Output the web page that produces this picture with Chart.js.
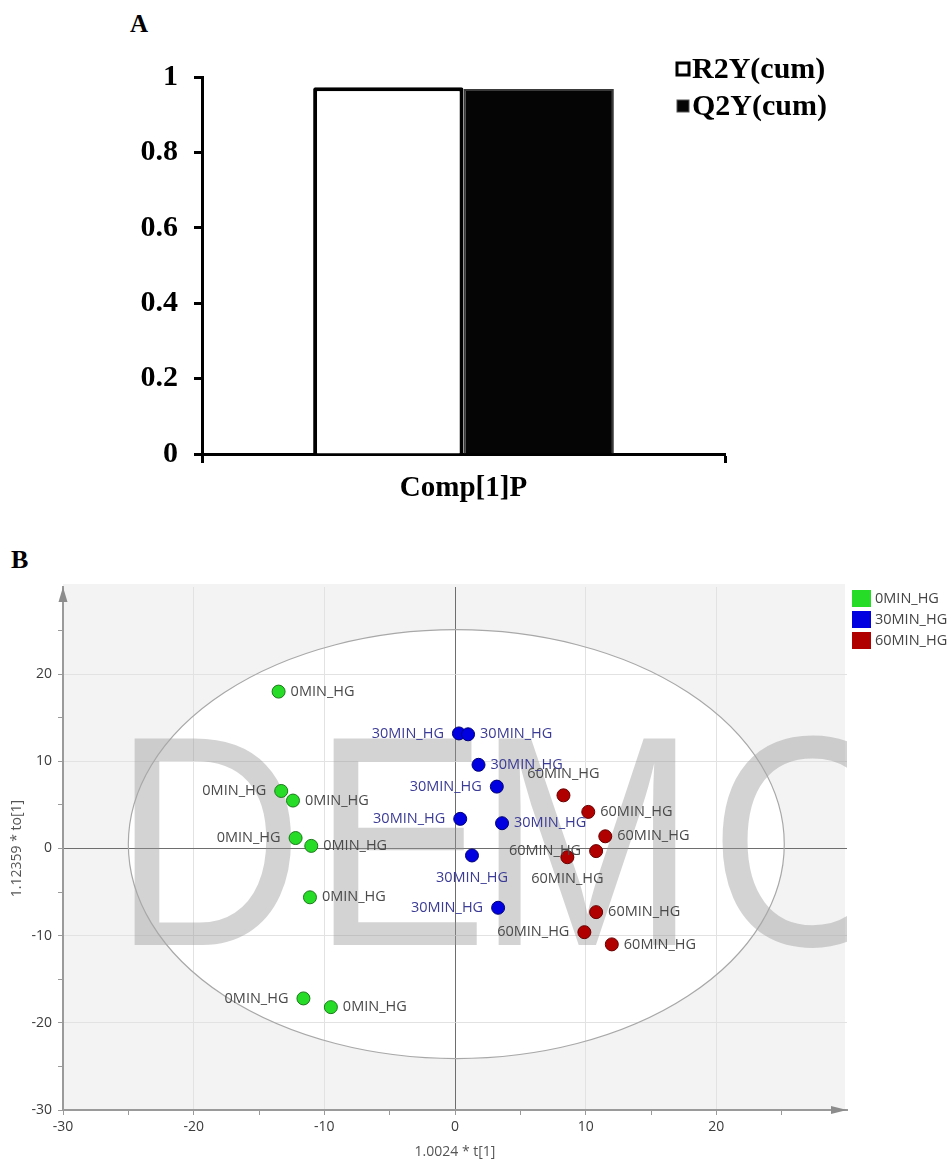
<!DOCTYPE html>
<html>
<head>
<meta charset="utf-8">
<title>OPLS-DA summary and score plot</title>
<script src="https://cdn.jsdelivr.net/npm/chart.js@4.4.1/dist/chart.umd.min.js"></script>
<style>
    body { margin: 0; background: #fff; }
    .panel-tag { position: absolute; font: bold 25px 'Liberation Serif', 'Times New Roman', serif; line-height: 25px; color: #000; }
    .box { position: absolute; left: 0; width: 951px; }
</style>
</head>
<body>

<div class="panel-tag" style="left:130px; top:11px">A</div>
<div class="box" style="top:0; height:520px"><canvas id="summaryChart"></canvas></div>

<div class="panel-tag" style="left:11px; top:547px; font-size:26px">B</div>
<div class="box" style="top:540px; height:620px"><canvas id="scoreChart"></canvas></div>

<script>
// =========================
// DATA
// =========================
const components = ["Comp[1]P"]
const r2yCum = [0.973]
const q2yCum = [0.968]

const groups = ["0MIN_HG", "30MIN_HG", "60MIN_HG"]

// t[1] / to[1] scores per group
const t0 = [-13.5, -13.3, -12.4, -12.2, -11.0, -11.1, -11.6, -9.5]
const to0 = [18.0, 6.6, 5.5, 1.2, 0.3, -5.6, -17.2, -18.2]
const t30 = [0.3, 1.0, 1.8, 3.2, 0.4, 3.6, 1.3, 3.3]
const to30 = [13.2, 13.1, 9.6, 7.1, 3.4, 2.9, -0.8, -6.8]
const t60 = [8.3, 10.2, 11.5, 10.8, 8.6, 10.8, 9.9, 12.0]
const to60 = [6.1, 4.2, 1.4, -0.3, -1.0, -7.3, -9.6, -11.0]

// Hotelling T2 ellipse (centre and radii in score units)
const t2Center = [0.1, 0.5]
const t2Radius = [25.1, 24.6]

// where each point label sits
const labelSide0 = ["right", "left", "right", "left", "right", "right", "left", "right"]
const labelSide30 = ["left", "right", "right", "left", "left", "right", "below", "left"]
const labelSide60 = ["above", "right", "right", "left", "below", "right", "left", "right"]

const serif = "'Liberation Serif', 'Times New Roman', serif"
const sans = "'Open Sans', 'DejaVu Sans', sans-serif"

// =========================
// PANEL A: R2Y / Q2Y BARS
// =========================
const summaryLegend = {
    id: "summaryLegend",
    afterDraw(chart) {
        const ctx = chart.ctx
        ctx.save()
        ctx.font = "bold 30px " + serif
        ctx.textBaseline = "middle"
        chart.data.datasets.forEach((ds, i) => {
            const y = 69 + i * 37
            ctx.fillStyle = ds.backgroundColor
            ctx.fillRect(677, y - 6, 12, 12)
            ctx.lineWidth = i === 0 ? 3 : 1
            ctx.strokeStyle = i === 0 ? "#000" : "#555"
            ctx.strokeRect(677, y - 6, 12, 12)
            ctx.fillStyle = "#000"
            ctx.fillText(ds.label, 692, y + 1)
        })
        ctx.restore()
    }
}

new Chart(document.getElementById("summaryChart"), {
    type: "bar",
    data: {
        labels: components,
        datasets: [
            {
                label: "R2Y(cum)",
                data: r2yCum,
                backgroundColor: "#ffffff",
                borderColor: "#000000",
                borderWidth: 4,
                borderRadius: 2
            },
            {
                label: "Q2Y(cum)",
                data: q2yCum,
                backgroundColor: "#050505",
                borderColor: "#3a3a3a",
                borderWidth: 2
            }
        ]
    },
    options: {
        responsive: true,
        maintainAspectRatio: false,
        animation: false,
        layout: { padding: { top: 77, right: 226, left: 0, bottom: 0 } },
        datasets: { bar: { barPercentage: 1, categoryPercentage: 0.575 } },
        plugins: { legend: { display: false }, tooltip: { enabled: false } },
        scales: {
            x: {
                grid: { drawOnChartArea: false, tickLength: 9, tickWidth: 3, tickColor: "#000" },
                border: { color: "#000", width: 3 },
                ticks: { color: "#000", padding: 8, font: { family: serif, size: 29, weight: "bold" } },
                afterFit: s => { s.height = 66 }
            },
            y: {
                min: 0,
                max: 1,
                ticks: {
                    stepSize: 0.2,
                    color: "#000",
                    padding: 16,
                    font: { family: serif, size: 30, weight: "bold" },
                    callback: v => String(Number(v.toFixed(1)))
                },
                grid: { drawOnChartArea: false, tickLength: 8, tickWidth: 3, tickColor: "#000" },
                border: { color: "#000", width: 3 },
                afterFit: s => { s.width = 202 }
            }
        }
    },
    plugins: [summaryLegend]
})

// =========================
// PANEL B: SCORE PLOT
// =========================
const pointFill = ["#27dc27", "#0000e0", "#b00000"]
const pointEdge = ["#1b7a1b", "#00007a", "#6a0000"]
const textColor = ["#4a4a4a", "#3b3b96", "#4a4a4a"]

function group(i, xs, ys, sides) {
    return {
        label: groups[i],
        data: xs.map((x, k) => ({ x: x, y: ys[k] })),
        labelSide: sides,
        backgroundColor: pointFill[i],
        borderColor: pointEdge[i],
        borderWidth: 1,
        pointRadius: 6.5,
        pointHoverRadius: 6.5
    }
}

function ellipsePath(chart) {
    const { ctx, scales } = chart
    const cx = scales.x.getPixelForValue(t2Center[0])
    const cy = scales.y.getPixelForValue(t2Center[1])
    const rx = scales.x.getPixelForValue(t2Center[0] + t2Radius[0]) - cx
    const ry = cy - scales.y.getPixelForValue(t2Center[1] + t2Radius[1])
    ctx.beginPath()
    ctx.ellipse(cx, cy, rx, ry, 0, 0, Math.PI * 2)
}

// grey plot area, white ellipse interior, watermark, ellipse outline
const plotBackdrop = {
    id: "plotBackdrop",
    beforeDraw(chart) {
        const { ctx, chartArea: a } = chart
        ctx.save()
        ctx.fillStyle = "#f3f3f3"
        ctx.fillRect(a.left, a.top - 3, a.right - a.left - 2, a.bottom - a.top + 3)
        ctx.beginPath()
        ctx.rect(a.left, a.top, a.right - a.left, a.bottom - a.top)
        ctx.clip()
        ellipsePath(chart)
        ctx.fillStyle = "#ffffff"
        ctx.fill()
        ctx.restore()
    },
    beforeDatasetsDraw(chart) {
        const { ctx, chartArea: a } = chart
        ctx.save()
        ctx.beginPath()
        ctx.rect(a.left, a.top, a.right - a.left, a.bottom - a.top)
        ctx.clip()

        // trial-version watermark, one glyph at a time
        ctx.font = "300px 'Liberation Sans', Arial, sans-serif"
        ctx.textAlign = "left"
        ctx.textBaseline = "alphabetic"
        ctx.fillStyle = "rgba(150,150,150,0.42)"
        const letters = ["D", "E", "M", "O"]
        const offsets = [50, 249, 414, 647]
        letters.forEach((ch, i) => {
            ctx.save()
            ctx.translate(a.left + offsets[i], a.top + 358)
            ctx.scale(0.88, 1)
            ctx.fillText(ch, 0, 0)
            ctx.restore()
        })

        ellipsePath(chart)
        ctx.strokeStyle = "#a8a8a8"
        ctx.lineWidth = 1.2
        ctx.stroke()
        ctx.restore()
    }
}

// observation names next to each point
const pointNames = {
    id: "pointNames",
    afterDatasetsDraw(chart) {
        const ctx = chart.ctx
        ctx.save()
        ctx.font = "14.5px " + sans
        ctx.textBaseline = "middle"
        chart.data.datasets.forEach((ds, i) => {
            const meta = chart.getDatasetMeta(i)
            ctx.fillStyle = textColor[i]
            meta.data.forEach((pt, k) => {
                const side = ds.labelSide[k]
                let x = pt.x, y = pt.y
                if (side === "right") { ctx.textAlign = "left"; x += 12 }
                else if (side === "left") { ctx.textAlign = "right"; x -= 15 }
                else if (side === "above") { ctx.textAlign = "center"; y -= 21 }
                else { ctx.textAlign = "center"; y += 22 }
                ctx.fillText(ds.label, x, y)
            })
        })
        ctx.restore()
    }
}

// axis arrows and the group key
const axisExtras = {
    id: "axisExtras",
    afterDraw(chart) {
        const { ctx, chartArea: a } = chart
        ctx.save()
        ctx.fillStyle = "#8c8c8c"
        ctx.beginPath()
        ctx.moveTo(a.left, a.top)
        ctx.lineTo(a.left - 4.5, a.top + 15)
        ctx.lineTo(a.left + 4.5, a.top + 15)
        ctx.closePath()
        ctx.fill()
        ctx.beginPath()
        ctx.moveTo(a.right, a.bottom)
        ctx.lineTo(a.right - 16, a.bottom - 4)
        ctx.lineTo(a.right - 16, a.bottom + 4)
        ctx.closePath()
        ctx.fill()

        ctx.font = "14.5px " + sans
        ctx.textBaseline = "middle"
        ctx.textAlign = "left"
        chart.data.datasets.forEach((ds, i) => {
            const top = 50 + i * 21
            ctx.fillStyle = pointFill[i]
            ctx.fillRect(a.right + 5, top, 19, 17)
            ctx.fillStyle = "#444"
            ctx.fillText(ds.label, a.right + 28, top + 9)
        })
        ctx.restore()
    }
}

function gridColor(c) {
    const v = c.tick.value
    if (v === 0) return "#6e6e6e"
    if (v % 10 === 0 && Math.abs(v) < 30) return "#e2e2e2"
    return "rgba(0,0,0,0)"
}
function tickColor(c) {
    return c.tick.value < 30 ? "#9a9a9a" : "rgba(0,0,0,0)"
}
const tickLabel = v => (v % 10 === 0 && v < 30) ? String(v) : ""

new Chart(document.getElementById("scoreChart"), {
    type: "scatter",
    data: {
        datasets: [
            group(0, t0, to0, labelSide0),
            group(1, t30, to30, labelSide30),
            group(2, t60, to60, labelSide60)
        ]
    },
    options: {
        responsive: true,
        maintainAspectRatio: false,
        animation: false,
        layout: { padding: { top: 47, right: 104, left: 0, bottom: 0 } },
        plugins: { legend: { display: false }, tooltip: { enabled: false } },
        scales: {
            x: {
                type: "linear",
                min: -30,
                max: 30,
                ticks: { stepSize: 5, autoSkip: false, maxRotation: 0, padding: 4, color: "#3c3c3c", font: { family: sans, size: 14 }, callback: tickLabel },
                grid: { color: gridColor, tickColor: tickColor, tickLength: 5, lineWidth: 1 },
                border: { color: "#9a9a9a", width: 2 },
                title: { display: true, text: "1.0024 * t[1]", color: "#555", font: { family: sans, size: 14 }, padding: 0 },
                afterFit: s => { s.height = 50 }
            },
            y: {
                type: "linear",
                min: -30,
                max: 30,
                ticks: { stepSize: 5, autoSkip: false, padding: 6, color: "#3c3c3c", font: { family: sans, size: 14 }, callback: tickLabel },
                grid: { color: gridColor, tickColor: tickColor, tickLength: 5, lineWidth: 1 },
                border: { color: "#9a9a9a", width: 2 },
                title: { display: true, text: "1.12359 * to[1]", color: "#555", font: { family: sans, size: 14 }, padding: { top: 9, bottom: 0 } },
                afterFit: s => { s.width = 63 }
            }
        }
    },
    plugins: [plotBackdrop, pointNames, axisExtras]
})
</script>
</body>
</html>
